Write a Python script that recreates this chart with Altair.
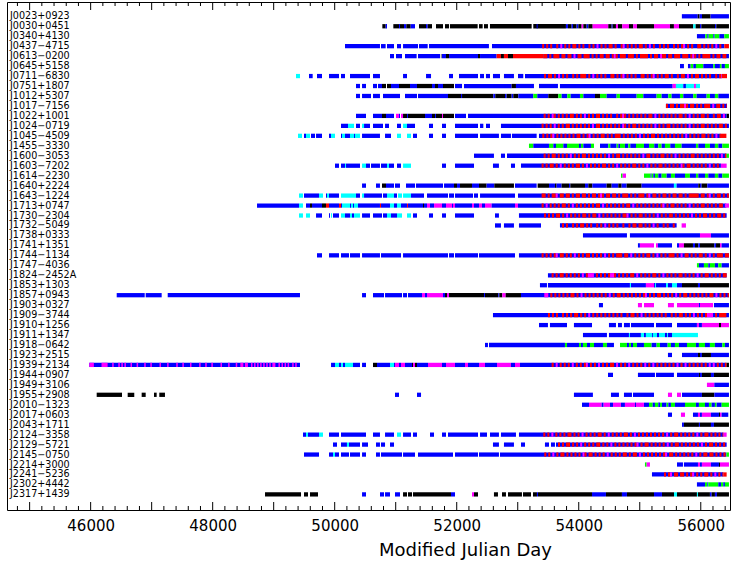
import altair as alt
import pandas as pd

NAMES = [
    "J0023+0923", "J0030+0451", "J0340+4130", "J0437\u22124715", "J0613\u22120200",
    "J0645+5158", "J0711\u22126830", "J0751+1807", "J1012+5307", "J1017\u22127156",
    "J1022+1001", "J1024\u22120719", "J1045\u22124509", "J1455\u22123330", "J1600\u22123053",
    "J1603\u22127202", "J1614\u22122230", "J1640+2224", "J1643\u22121224", "J1713+0747",
    "J1730\u22122304", "J1732\u22125049", "J1738+0333", "J1741+1351", "J1744\u22121134",
    "J1747\u22124036", "J1824\u22122452A", "J1853+1303", "J1857+0943", "J1903+0327",
    "J1909\u22123744", "J1910+1256", "J1911+1347", "J1918\u22120642", "J1923+2515",
    "J1939+2134", "J1944+0907", "J1949+3106", "J1955+2908", "J2010\u22121323",
    "J2017+0603", "J2043+1711", "J2124\u22123358", "J2129\u22125721", "J2145\u22120750",
    "J2214+3000", "J2241\u22125236", "J2302+4442", "J2317+1439",
]

# Observation spans per pulsar: colour code + start-end (MJD)
SEGMENTS = [
    "b55690-55950 k55950-55980 b55980-56020 k56020-56160 b56160-56462",
    "k50781-50835 b50835-50857 k50961-51054 b51054-51070 k51070-51136 b51136-51174 k51174-51245 b51245-51316 k51382-51496 b51496-51524 k51524-51595 k51660-51775 k51808-51874 k51890-52343 k52365-52425 k52447-52512 k52545-53228 k53255-53790 b53310-53326 b53790-53823 k53823-53883 b53883-53905 k53905-53965 b53965-53993 k53993-54047 m54047-54075 k54075-54129 b54129-54157 k54157-54228 m54228-54484 k54484-54539 b54539-54555 k54555-54610 m54610-54643 k54643-54714 m54714-54823 k54823-54894 m54894-54954 k54954-55233 m55233-55495 k55495-55560 m55560-55643 k55643-55877 c55877-55916 k55916-55987 b55987-56009 k56009-56233 b56233-56254 k56254-56462",
    "b55937-56074 g56074-56107 b56107-56129 g56129-56205 b56205-56227 g56227-56304 b56304-56386 g56386-56462",
    "b50169-50742 b50759-50835 b50857-50972 b51021-51087 b51120-51365 b51382-51524 b51546-52528 b52578-56385 r56385-56462",
    "b50906-50972 b51005-51103 b51152-51343 b51365-51726 k51740-51750 b51759-51824 k51824-51874 b51874-52349 k52349-52382 b52382-52654 r52654-52725 k52725-52774 r52774-52840 k52840-52922 r52922-53419 b53419-56462",
    "b55659-55724 b55790-55834 g55834-55877 b55877-55921 g55921-56041 b56041-56205 g56205-56232 b56232-56314 g56314-56342 b56342-56396 g56396-56462",
    "c49366-49431 b49579-49639 b49710-49792 b49907-50071 b50103-50169 b50251-50579 b50628-50742 b51120-51185 b51497-51579 b51874-51939 b52037-52349 b52382-52447 b52479-52545 b52594-52709 b52774-52938 b53004-53091 b53119-56342 r56342-56430",
    "b50349-50415 b50448-50513 b50628-50693 b50710-50775 k50775-50841 k50857-50923 b50923-50988 b50988-51054 k51054-51234 b51234-51349 k51349-51595 b51595-51644 k51644-51693 b51693-51775 k51775-51955 b51972-52087 b52119-52900 k52900-52971 b52971-53266 b53348-53659 b53692-55539 m55539-55593 c55593-55713 b55713-55757 c55757-55888 m55888-55921 c55921-55987",
    "b50349-50415 b50448-50595 b50628-50742 b50792-51070 b51152-51349 b51365-51857 k51857-52070 b52070-52087 k52087-52600 b52600-52632 k52632-52791 b52791-52818 k52818-52900 b52900-52927 k52927-53009 b53009-53255 g53255-53320 b53320-53501 k53501-53665 g53665-53720 b53720-53812 g53812-53867 b53867-54020 g54020-54075 b54075-54266 k54266-54348 g54348-54457 b54457-54621 g54621-54675 b54675-54949 g54949-55058 b55058-55276 g55276-55358 b55358-55468 g55468-55522 b55522-55659 g55659-55713 b55713-55877 g55877-55932 b55932-56096 g56096-56150 b56150-56232 g56232-56287 b56287-56462",
    "b55429-56430",
    "b50349-50513 b50628-50775 k50775-50841 b50841-50972 m51005-51054 b51054-51070 m51087-51120 k51120-51185 b51185-51201 k51201-51480 b51480-51595 k51595-51644 b51644-51660 k51660-51759 m51759-51775 k51775-51955 b51972-52152 b52185-56424 k56424-56462",
    "b50103-50218 c50218-50317 b50349-50415 c50448-50481 b50481-50579 b50628-50792 b50825-50890 b51021-51087 c51120-51185 b51185-51316 b51546-51611 b51759-51824 b51972-52349 b52382-52436 b52480-52545 b52725-56462",
    "c49398-49464 b49497-49530 c49530-49595 b49612-49677 b49694-49792 b49907-49940 c49940-50005 b50103-50120 c50120-50169 b50169-50251 c50251-50317 b50317-50333 c50333-50415 b50448-50742 b50825-50923 c51021-51087 c51185-51251 b51283-51349 b51546-51611 b51759-51824 b51972-52349 b52382-52692 b52725-52889 b52905-53310 b53348-56330 r56330-56420",
    "g53184-53255 b53255-53512 g53512-53583 b53583-53627 g53627-53747 b53747-53807 g53807-54004 b54004-54036 g54036-54075 b54075-54200 g54200-54250 b54348-54484 g54484-54517 b54517-54621 g54621-54648 b54648-54676 g54676-54757 b54757-54812 g54812-54845 b54845-54938 g54938-55069 b55069-55151 g55151-55238 b55238-55304 g55304-55358 b55358-55413 g55413-55500 b55500-55577 g55577-55686 b55686-55921 g55921-55959 b55959-56069 g56069-56150 b56150-56232 g56232-56287 b56287-56353 g56353-56462",
    "b52283-52610 b52725-52791 b52824-56420 g56420-56462",
    "b50005-50071 b50103-50169 c50169-50185 b50185-50415 c50448-50513 b50513-50579 b50595-50742 b50759-50857 c50857-50890 b50890-50972 b51021-51087 c51120-51251 b51759-51824 b51972-52283 b52594-52692 b52889-52955 b53053-56330 m56330-56424",
    "g54692-54719 m54719-54774 g55069-55178 b55178-55194 g55194-55222 b55222-55249 g55249-55304 b55304-55358 g55358-55440 b55440-55511 g55511-55577 b55577-55741 g55741-55822 b55822-55921 g55921-55959 b55959-56069 g56069-56123 b56123-56232 g56232-56287 b56287-56353 g56353-56462",
    "b50448-50513 b50677-50742 k50775-50841 b50841-50972 b50988-51070 b51169-51316 b51332-51775 b51792-51955 k51955-52005 b52005-52054 k52054-52250 b52250-52365 k52365-52490 b52490-52616 k52616-52938 b52955-53310 k53326-53512 b53512-53610 k53610-53637 b53637-53719 k53719-53840 b53840-53862 k53862-54102 b54102-54157 k54157-54222 b54222-54457 k54457-54539 b54539-54648 k54648-54703 b54703-54785 k54785-55030 b55030-55560 c55560-55604 b55604-55959 k55959-55987 b55987-56014 k56014-56107 b56107-56462",
    "c49415-49480 b49497-49743 c49743-49808 b49857-49874 c49874-49907 b49907-50071 c50103-50349 b50349-50415 c50448-50481 b50481-50775 b50792-50857 c50857-50972 b50972-51021 c51038-51103 c51120-51251 b51251-51464 b51513-51857 b51874-51955 b51972-52267 b52283-52349 b52382-52955 b53004-56462",
    "b48727-49415 c49415-49480 b49530-49595 k49595-49628 b49628-49792 k49792-49857 r49857-49907 b49907-50071 r50071-50103 b50103-50120 c50120-50251 b50251-50267 c50267-50300 b50300-50317 c50317-50382 b50382-50742 r50742-50759 b50759-50906 c50906-50972 b50972-51021 c51021-51087 b51087-51185 r51185-51201 b51201-51447 k51447-51464 b51464-51513 m51513-51562 b51562-51628 m51628-51759 b51759-51824 m51824-51923 b51923-51939 m51939-51972 b51972-52250 m52250-52283 b52283-52365 m52365-52414 b52414-52463 m52463-52572 b52572-52955 m52955-53004 b53004-56420 m56420-56462",
    "c49415-49480 c49530-49595 b49694-49792 b49907-49923 c49940-49956 b49972-50071 c50103-50169 b50169-50251 c50251-50284 b50284-50317 c50317-50415 b50448-50579 b50628-50775 b50792-50857 c50857-50923 b50923-51021 c51021-51103 c51185-51251 b51283-51349 b51546-51611 b51759-51824 b51972-52283 b52627-52692 b53020-56424",
    "b52627-52725 b52774-52938 b53020-53381 b53692-55604 m55686-55757",
    "b54069-54790 b54839-55987 m55987-56167 b56167-56462",
    "b54970-55003 m55003-55233 m55266-55298 b55298-55528 b55610-55643 m55643-55724 k55724-55872 b55872-55905 k55905-55959 b55959-55987 k55987-56222 b56222-56250 k56250-56315 m56315-56342 b56342-56462",
    "b49710-49792 b49907-50071 b50103-50234 b50251-50415 b50448-50742 b50759-51087 b51120-51857 b51874-51955 b51972-52349 b52365-52955 b53020-56462",
    "g55937-55970 b55970-56052 g56052-56123 b56123-56150 g56150-56232 b56232-56287 g56287-56342 b56342-56462",
    "b53495-56424",
    "b53364-53479 b53495-54839 c54839-54856 b54856-55101 m55101-55233 b55233-55249 c55249-55266 b55266-55430 c55430-55462 b55462-55528 c55528-55610 b55610-55692 k55692-55954 b55954-55987 k55987-56462",
    "b46427-46886 b46902-47164 b47263-49431 b50448-50513 b50628-50808 b50825-51103 b51120-51185 b51201-51431 m51431-51480 b51480-51513 m51513-51775 b51775-51808 k51808-51841 m51841-51874 k51874-52447 b52447-52463 k52463-52682 b52682-52698 k52698-52747 m52747-52802 k52802-53053 b53053-56462",
    "b54331-54397 m54970-55036 m55069-55233 m55462-55560 m55610-55970 b55970-55987 m55987-56200 b56216-56462",
    "b52594-56462",
    "b53348-53495 b53528-53807 b53921-54217 b54495-54610 b54643-54708 b54741-54839 b54856-55233 b55266-55528 b55610-55937 m55937-55970 b55970-56019 m56019-56298 k56298-56331 m56331-56462",
    "b54069-54462 b54495-54823 c54823-54839 b54839-55019 c55019-55069 b55069-55101 c55101-55200 b55200-55216 c55216-55282 b55282-55315 c55315-55413 b55413-55446 c55446-55462 b55462-55528 c55528-55954",
    "b52463-52512 b52529-53774 g53774-53807 b53807-54004 g54004-54036 b54036-54069 g54069-54135 b54135-54184 g54184-54250 b54250-54397 g54397-54462 b54462-54577 g54676-54790 b54790-54823 g54823-54856 b54856-54889 g54889-54954 b54954-55069 g55069-55194 b55194-55276 g55276-55331 b55331-55457 g55457-55511 b55511-55577 g55577-55642 b55642-55774 g55774-55921 b55921-55970 g55970-56069 b56069-56150 g56150-56232 b56232-56353 g56353-56396 b56396-56462",
    "b55462-55528 b55692-55954 k55954-55987 b55987-56019 k56019-56167 b56167-56462",
    "b45978-49431 b49940-50005 c50005-50071 b50071-50103 c50103-50136 b50136-50169 c50169-50300 b50300-50415 b50448-50513 k50628-50693 b50693-50906 c50906-50972 b50972-50988 m50988-51054 b51054-51087 m51087-51152 b51152-51267 k51267-51284 m51284-51316 k51316-51349 b51349-51529 m51529-51759 b51759-51824 m51824-51972 b51972-52136 m52136-52185 b52185-52365 m52365-52463 b52463-52660 m52660-52889 b52889-52955 m52955-53037 b53037-56420 k56420-56462",
    "b54479-54561 b54970-55249 b55266-55560 b55610-55970 k55970-55987 b55987-56019 k56019-56167 b56167-56216 k56216-56462",
    "m56101-56222 b56222-56462",
    "k46099-46514 k46607-46715 k46836-46902 k47038-47082 k47125-47218 b50988-51054 b51349-51415 b53921-54232 b54528-54659 b54741-54872 b54889-55233 m55462-55528 m55610-55675 b55692-56019 k56019-56222 b56222-56462",
    "b54053-54168 m54168-54375 b54375-54408 m54408-54512 b54512-54561 m54561-54692 b54692-54757 m54757-54921 b54921-54938 m54938-55069 b55069-55151 g55151-55211 b55211-55249 g55249-55304 b55304-55331 g55331-55364 b55364-55440 g55440-55468 b55468-55511 g55511-55577 b55577-55741 g55741-55921 b55921-55970 g55970-56069 b56069-56134 g56134-56178 b56178-56232 g56232-56260 b56260-56342 g56342-56462",
    "b55462-55528 m55675-55741 b55872-55954 m55954-55987 b55987-56019 m56019-56167 b56167-56298 k56298-56315 m56315-56342 b56342-56451",
    "b55692-55724 k55724-55970 b55970-55987 k55987-56167 b56167-56216 k56216-56462",
    "b49480-49530 c49530-49562 b49562-49743 c49743-49808 b49907-50071 b50103-50513 b50628-50742 b50825-50972 c51021-51087 b51120-51251 b51283-51349 b51562-51628 b51759-51824 b51857-52349 b52382-52496 b52545-52692 b52725-52971 b53020-56370 m56370-56424",
    "b49972-50038 b50103-50201 c50201-50234 b50234-50415 b50448-50546 b50677-50742 b50759-50825 b50906-50972 b52594-52692 b52774-52938 b53053-53119 b53446-53512 b53545-53610 b53627-56424",
    "b49497-49743 b49907-49972 c49972-50005 b50005-50071 b50103-50234 b50251-50415 b50448-50513 b50677-50742 b50759-51103 b51120-51316 b51365-51939 b51972-52349 b52365-52692 b52709-56420 g56420-56462",
    "g55085-55113 m55113-55167 b55610-55708 b55724-55954 m55954-55987 b55987-56019 m56019-56167 b56167-56298 k56298-56315 m56315-56462",
    "b55200-56370 r56370-56424",
    "b55937-56069 g56069-56107 b56107-56123 g56123-56287 b56287-56331 g56331-56369 b56369-56396 g56396-56462",
    "k48858-49448 k49497-49562 k49595-49726 b50448-50513 b50742-50808 b50825-50906 b50988-51070 k51120-51185 k51201-51267 k51283-51906 b51906-51972 m52250-52283 k52283-52349 k52610-52676 k52742-52807 k52840-53069 k53086-53217 k53250-53315 b53315-53332 k53332-54217 b54217-54446 k54446-54708 b54708-54790 k54790-55233 b55233-55364 k55364-55561 c55561-55610 k55610-55937 c55937-55954 k55954-56150 b56150-56178 k56178-56232 b56232-56265 k56265-56462",
]

# Densely sampled stretches: pulsar, start, end, days per character, pattern
# ('.' = only the base colour shows)
STRIPES = [
    ("J0437\u22124715", 53400, 56385, 33, "r.r.r..r.m.r.r.rr.r.r..r.r.m.r.r.rr.r..rm.r.r.r.rr.r.m.r..r.r.r..r.r.rm.r.r..rr.r.r.r.m.r..r.r.r.rr"),
    ("J0613\u22120200", 53419, 56420, 33, "rr.r.rrr.rr.rr.m.rr.rrr.r.r.rr.rr.rmr.rrr.rrr.r.rrrr.r.rr.mrr.rr.rrr.rrr.rmr.r.rrrr.r.rr.rr.rr.r."),
    ("J0711\u22126830", 53397, 56342, 33, ".r.rr.r.m.r.r..r.r.rrr.r.m.r.r.r..rr.r.rm.r.r.r..rr.r.rm.r.r.rr.r..r.rr.m.r.rr.r.r.r..r.rmr.r.r.r"),
    ("J1017\u22127156", 55429, 56430, 33, "r.rr.r.rrmr.rr.r.r.rrr.m.rr.r.r.rr.r.rrr"),
    ("J1022+1001", 53392, 56424, 33, ".r.r.mr.r.r.r.rr.r.r.m.r.r.rr.r.r.r..r.rmr.r.r.r.r.r.rr.m.r.r.r.r.r.rr.r.m.r.r.rr.r..r.rr.m.r.r.r.r"),
    ("J1024\u22120719", 53392, 56462, 33, "r.r.r.m.r.r.rr.r.r.r.r.r.m.rr.r.r.r.r.r.mr.r.rr.r.r.r.r.m.r.r.rr.r.r.r.r.m.r.r.rr.r.r.r.rr.r.m.r.r.r"),
    ("J1045\u22124509", 53402, 56330, 33, "r.r.rm.r.r.r.r.r.rr.r.rm.r.r.rr.r.r.rrr.r.r.r.r.m.r.r.rr.r.r.r.r.r.r.r.m.r.r.r.rr.r.r.m.r.rr.r.r.r"),
    ("J1600\u22123053", 53392, 56420, 33, ".r.r.rr.r.r.r.m.r.r.rr.r.r.r.r.r.m.r.rr.r.r.r.r.r.m.rr.r.r.rr.r.r.m.r.r.r.rr.r.r.r.r.r.r.m.rr.r.rr."),
    ("J1603\u22127202", 53392, 56330, 33, "r.r.rr.r.m.r.r.r.rr.r.m.r.r.r.rr.r.r.m.r.r.r.rr.r.r.m.r.r.rr.r.r.r.r.mr.rr.r.r.r.r.m.r.r.rr.r.r.rm"),
    ("J1643\u22121224", 53392, 56462, 33, "rr.r.rrm.rr.rr.r.rr.rr.r.rr.rmr.rr.rr.r.rrr.r.r.rrr.rm.rr.r.rr.r.rr.rr.r.rrrrr.rr.rm.r.rr.r.r."),
    ("J1713+0747", 53392, 56420, 33, "r.m.r.r.r.rr.r.m.r.r.r.r.r.rr.m.r.r.r.r.r.rr.m.r.r.r.r.r.r.rm.r.rr.r.r.r.m.r.r.rr.r.r.r.rr.m.r.r.r"),
    ("J1730\u22122304", 53430, 56424, 33, "r.r.r.rr.r.m.r.r.r.rr.r.rr.m.r.r.r.r.r.rrm.r.r.rr.r.r.r.m.r.r.rr.r.r.r.r.m.r.r.rr.r.r.rr.r.m.r.r.r"),
    ("J1732\u22125049", 53692, 55604, 33, ".r.r..r.r.rr.r.r..r.r.m.r.r.r..r..r.rr.rr.r.r.m.r..r.r..r.r.r.rr.r.r.rr.r.r."),
    ("J1744\u22121134", 53392, 56462, 33, "r.r.r.rm.rr.r.r.m.r.r.rr.r.r.r.m.r.r.rrr.rr.m.r.r.r.rr.r.m.r.r.rrr.r.m.rr.r.r.rr.r.m.r.rrr.rrrr."),
    ("J1824\u22122452A", 53556, 56424, 33, "r.r.rr.r.r.r.r.m.rmmm.r.r.r.rmmr.r.r.r.rr.m.r.r.r.rr.r.m.r.r.r.rr.r.r.r.m.r.rr.r.r.r.rrr.."),
    ("J1857+0943", 53435, 56462, 33, "mm.r.r.r.r.r.rr.r.m.r.r.r.r.r.r.m.r.rr.r.r.r.r.r.rm.r.r.rr.r.r.r.m.r.rr.r.r.r.r.r.rr.m.r.r.r.r.r"),
    ("J1909\u22123744", 53495, 56420, 33, "r.r.r..r.r.r.rr.r.r.m.r.r.r.r.r.r.r.r..r.rr.r.m.r.r.r.r.r.r..r.r.rr.r.r.m.r.r.rmmm.r.rrrr."),
    ("J1939+2134", 45978, 49431, 25, "mmm.....mmmm...m...m.m.m...m...m....m...m.....m....m.....m...m....m.....m...m...m.....m....m....m..mm.mm..m.m.m.m.m.m.m.mm..m.m.m.m..m.m."),
    ("J1939+2134", 53556, 56420, 33, "r.m.r.r.r.m.r.r.rm.r.r.m.r.r.rr.m.r.r.m.r.r.r.m.r.m.r.r.r.r.r.m.r.m.r.r.r.r.r.m.m.r.r.r.r.r.m.r.m"),
    ("J2124\u22123358", 53419, 56370, 33, "r.r.m.r.r.r.rr.r.r.m.r.r.r.rr.r.m.r.r.r.rr.r.m.r.r.r.r.r.r.r.m.r.rr.r.r.r.r.m.r.rr.r.r.r.r.r.m.rr"),
    ("J2129\u22125721", 53627, 56424, 33, ".r.r.rr.r.r.m.r.r.r.rr.r.r.m.r.r.r.r.r.rm.r.rr.r.r.r.r.m.r.rr.r.r.r.r.r.m.r.rr.r.r.r.r.r.m.rr.r"),
    ("J2145\u22120750", 53435, 56420, 33, "r.r.m.r.rr.r.r.r.r.mr.rr.r.r.r.m.r.r.r.rr.r.rr.m.r.r.r.r.r.rm.rr.r.r.r.r.r.m.r.rr.rr.r.r.r.m.r.r"),
    ("J2241\u22125236", 55397, 56370, 33, "r.rm.rr.rr.r.rm.r.r.rr.r.m.r.r.rr.r.rr."),
]

CODES = ["b", "k", "r", "m", "c", "g"]
COLORS = ["#0000ff", "#000000", "#ff0000", "#ff00ff", "#00ffff", "#00ff00"]

HALF = 0.215
records = []
for i, seg in enumerate(SEGMENTS):
    for tok in seg.split():
        a, b = tok[1:].split("-")
        records.append({"row": i, "x": float(a), "x2": float(b), "c": tok[0]})
for name, start, end, step, pat in STRIPES:
    i = NAMES.index(name)
    j = 0
    while j < len(pat):
        ch = pat[j]
        if ch == ".":
            j += 1
            continue
        k = j
        while k < len(pat) and pat[k] == ch:
            k += 1
        a = start + j * step
        b = min(start + k * step, end)
        if a < end:
            records.append({"row": i, "x": float(a), "x2": float(b), "c": ch})
        j = k
df = pd.DataFrame(records)
df["y"] = df["row"] - HALF
df["y2"] = df["row"] + HALF
df["o"] = range(len(df))

labels = pd.DataFrame({"y": list(range(len(NAMES))), "name": NAMES})

X_DOMAIN = [44629, 56479]
Y_DOMAIN = [-1.436, 49.566]
W, H = 723, 508
FONT = "DejaVu Sans"

x_axis = alt.Axis(
    values=[46000, 48000, 50000, 52000, 54000, 56000], format="d",
    ticks=False, tickSize=0, domain=False, grid=False,
    labelFont=FONT, labelFontSize=15, labelColor="black", labelPadding=8,
    labelFlush=False, labelOverlap=False,
    titleFont=FONT, titleFontSize=18, titleFontWeight="normal", titleColor="black",
    titleX=458, titleY=45, titleBaseline="alphabetic", titleAlign="center",
)
xenc = alt.X("x:Q", scale=alt.Scale(domain=X_DOMAIN, nice=False, zero=False),
             axis=x_axis, title="Modified Julian Day")
yscale = alt.Scale(domain=Y_DOMAIN, reverse=True, nice=False, zero=False)

bars = alt.Chart(df).mark_rect().encode(
    x=xenc, x2="x2",
    y=alt.Y("y:Q", scale=yscale, axis=None), y2="y2",
    color=alt.Color("c:N", scale=alt.Scale(domain=CODES, range=COLORS), legend=None),
    order=alt.Order("o:Q"),
)

text = alt.Chart(labels).mark_text(
    align="left", baseline="middle", font=FONT, fontSize=9.6, color="black"
).encode(x=alt.value(3), y=alt.Y("y:Q", scale=yscale, axis=None), text="name:N")

major = pd.DataFrame({"x": list(range(45000, 56001, 1000))})
minor = pd.DataFrame({"x": [v for v in range(44800, 56401, 200) if v % 1000 != 0]})

def tick_layer(data, y0, y1):
    return alt.Chart(data).mark_rule(color="black", strokeWidth=1).encode(
        x=xenc, y=alt.value(y0), y2=alt.value(y1))

chart = alt.layer(
    bars, text,
    tick_layer(major, H, H - 8), tick_layer(minor, H, H - 4),
    tick_layer(major, 0, 8), tick_layer(minor, 0, 4),
).properties(
    width=W, height=H,
    padding={"left": 7, "top": 2, "right": 1, "bottom": 55},
    autosize=alt.AutoSizeParams(type="none"),
    background="white",
).configure_view(stroke="black", strokeWidth=1)

chart.save("out.html", embed_options={"renderer": "svg", "actions": False})
